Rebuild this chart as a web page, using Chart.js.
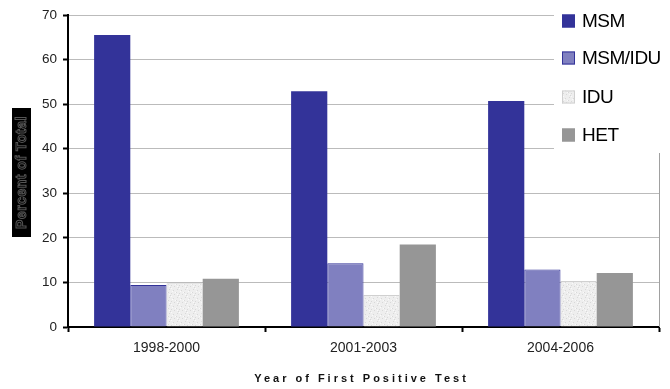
<!DOCTYPE html>
<html>
<head>
<meta charset='utf-8'>
<title>Percent of Total by Year of First Positive Test</title>
<script src='https://cdn.jsdelivr.net/npm/chart.js@4.4.1/dist/chart.umd.min.js'></script>
<style>
  html, body { margin: 0; padding: 0; background: #fff; }
  #wrap { position: relative; width: 670px; height: 389px; }
</style>
</head>
<body>
<div id='wrap'><canvas id='chart' width='670' height='389'></canvas></div>
<script>
const categories = ['1998-2000', '2001-2003', '2004-2006']
const seriesLabels = ['MSM', 'MSM/IDU', 'IDU', 'HET']
const msm = [65.5, 52.9, 50.7]
const msmIdu = [9.4, 14.3, 12.9]
const idu = [9.8, 7.2, 10.3]
const het = [10.8, 18.5, 12.1]
const yTicks = [0, 10, 20, 30, 40, 50, 60, 70]
const yTitle = 'Percent of Total'
const xTitle = 'Year of First Positive Test'

// speckled light grey fill used for the IDU bars
const makeSpeckle = () => {
  const tile = document.createElement('canvas')
  tile.width = 8
  tile.height = 8
  const t = tile.getContext('2d')
  t.fillStyle = '#eeeeee'
  t.fillRect(0, 0, 8, 8)
  t.fillStyle = '#d8d8d8'
  ;[[1, 1], [5, 2], [3, 5], [6, 6], [0, 4], [2, 7]].forEach(([x, y]) => t.fillRect(x, y, 1, 1))
  t.fillStyle = '#fafafa'
  ;[[3, 0], [7, 4], [1, 6], [4, 3]].forEach(([x, y]) => t.fillRect(x, y, 1, 1))
  return t.createPattern(tile, 'repeat')
}
const speckle = makeSpeckle()

const fills = ['#333399', '#8080c0', speckle, '#969696']
const edges = ['#333399', '#333399', '#d0d0d0', '#969696']
const seriesValues = [msm, msmIdu, idu, het]

const extrasPlugin = {
  id: 'extras',
  afterDraw (chart) {
    const { ctx, chartArea } = chart
    ctx.save()

    // right border of the plot area
    ctx.strokeStyle = '#a0a0a0'
    ctx.lineWidth = 1
    ctx.beginPath()
    ctx.moveTo(chartArea.right + 0.5, chartArea.top)
    ctx.lineTo(chartArea.right + 0.5, chartArea.bottom)
    ctx.stroke()

    // legend box over the top right corner
    ctx.fillStyle = '#fff'
    ctx.fillRect(554, 0, 116, 153)
    const rows = [21, 58, 97, 135]
    chart.data.datasets.forEach((ds, i) => {
      const y = rows[i]
      ctx.fillStyle = ds.backgroundColor
      ctx.fillRect(562, y - 6.5, 13, 13)
      ctx.strokeStyle = ds.borderColor
      ctx.lineWidth = 1
      ctx.strokeRect(562.5, y - 6, 12, 12)
      ctx.fillStyle = '#000'
      ctx.font = '19px "Liberation Sans", Arial, sans-serif'
      ctx.textAlign = 'left'
      ctx.textBaseline = 'middle'
      if ('letterSpacing' in ctx) ctx.letterSpacing = '-0.5px'
      ctx.fillText(ds.label, 582, y + 1)
      if ('letterSpacing' in ctx) ctx.letterSpacing = '0px'
    })

    // y axis title on a black band
    ctx.fillStyle = '#000'
    ctx.fillRect(12, 108, 19, 129)
    ctx.translate(21.5, 172.5)
    ctx.rotate(-Math.PI / 2)
    ctx.font = 'bold 14px "Liberation Sans", Arial, sans-serif'
    ctx.textAlign = 'center'
    ctx.textBaseline = 'middle'
    if ('letterSpacing' in ctx) ctx.letterSpacing = '0.5px'
    ctx.fillStyle = '#000'
    ctx.fillText(yTitle, 0, 1)
    ctx.strokeStyle = '#555'
    ctx.lineWidth = 1
    ctx.strokeText(yTitle, 0, 1)
    ctx.setTransform(1, 0, 0, 1, 0, 0)

    // x axis title, letter spaced
    ctx.fillStyle = '#111'
    ctx.font = 'bold 11px "Liberation Sans", Arial, sans-serif'
    ctx.textAlign = 'center'
    ctx.textBaseline = 'middle'
    if ('letterSpacing' in ctx) ctx.letterSpacing = '3px'
    ctx.fillText(xTitle, 361.5, 379)
    ctx.restore()
  }
}

const ctx = document.getElementById('chart').getContext('2d')
new Chart(ctx, {
  type: 'bar',
  data: {
    labels: categories,
    datasets: seriesLabels.map((label, i) => ({
      label,
      data: seriesValues[i],
      backgroundColor: fills[i],
      borderColor: edges[i],
      borderWidth: i === 1 || i === 2 ? 1 : 0,
      categoryPercentage: 0.735,
      barPercentage: 1
    }))
  },
  options: {
    responsive: false,
    animation: false,
    layout: { padding: { top: 15, right: 11, left: 0, bottom: 0 } },
    plugins: {
      legend: { display: false },
      tooltip: { enabled: false }
    },
    scales: {
      x: {
        afterFit: scale => { scale.height = 62 },
        grid: {
          offset: true,
          drawOnChartArea: false,
          drawTicks: true,
          tickLength: 5,
          tickColor: '#000',
          tickWidth: 2
        },
        border: { color: '#000', width: 2 },
        ticks: {
          color: '#222',
          padding: 8,
          font: { size: 14, family: '"Liberation Sans", Arial, sans-serif' }
        }
      },
      y: {
        min: 0,
        max: 70,
        afterFit: scale => { scale.width = 68 },
        afterBuildTicks: scale => { scale.ticks = yTicks.map(v => ({ value: v })) },
        grid: {
          color: '#bbbbbb',
          lineWidth: 1,
          drawTicks: true,
          tickLength: 5,
          tickColor: '#000',
          tickWidth: 2
        },
        border: { color: '#000', width: 2 },
        ticks: {
          color: '#222',
          padding: 6,
          font: { size: 13.5, family: '"Liberation Sans", Arial, sans-serif' }
        }
      }
    }
  },
  plugins: [extrasPlugin]
})
</script>
</body>
</html>
